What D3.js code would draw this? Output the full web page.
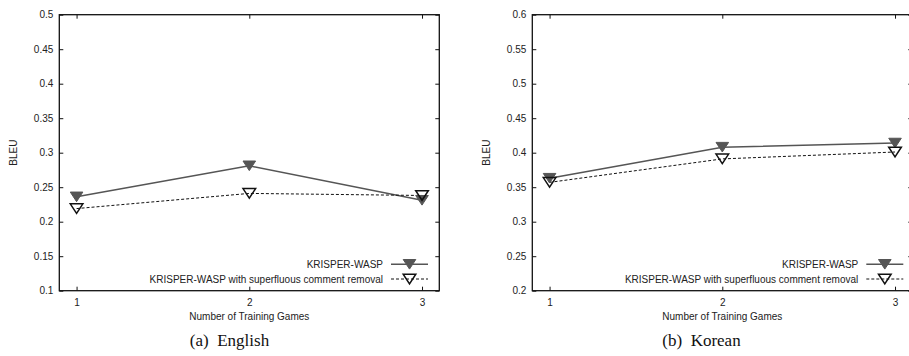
<!DOCTYPE html>
<html>
<head>
<meta charset="utf-8">
<script src="https://cdn.jsdelivr.net/npm/d3@7"></script>
<style>
  html, body { margin: 0; padding: 0; background: #fff; }
  svg { display: block; }
  .tick text { font-family: "Liberation Sans", Arial, sans-serif; font-size: 10px; fill: #222; }
  .lbl { font-family: "Liberation Sans", Arial, sans-serif; font-size: 10px; fill: #222; }
  .cap { font-family: "Liberation Serif", "Times New Roman", serif; font-size: 17px; fill: #111; }
</style>
</head>
<body>
<svg id="chart" width="909" height="356"></svg>
<script>
// Number of training games on the x axis
const games = [1, 2, 3];

// BLEU scores, English
const englishBase = [0.236, 0.281, 0.231];
const englishRemoval = [0.219, 0.241, 0.238];

// BLEU scores, Korean
const koreanBase = [0.363, 0.408, 0.414];
const koreanRemoval = [0.357, 0.391, 0.401];

// Y tick values for each panel
const englishTicks = [0.1, 0.15, 0.2, 0.25, 0.3, 0.35, 0.4, 0.45, 0.5];
const koreanTicks = [0.2, 0.25, 0.3, 0.35, 0.4, 0.45, 0.5, 0.55, 0.6];

const seriesNames = ["KRISPER-WASP", "KRISPER-WASP with superfluous comment removal"];

const svg = d3.select("#chart");
const grey = "#555";

function triangle(g, x, y, filled) {
  const w = 6.3, h = 9.6;
  const pts = [[x - w, y - h / 2], [x + w, y - h / 2], [x, y + h / 2]];
  g.append("path")
    .attr("d", "M" + pts.map(p => p.join(",")).join("L") + "Z")
    .attr("fill", filled ? grey : "none")
    .attr("stroke", filled ? grey : "#111")
    .attr("stroke-width", filled ? 1 : 1.5);
}

function drawPanel(opts) {
  const g = svg.append("g");
  const x = d3.scaleLinear().domain([0.9, 3.1]).range([opts.left, opts.left + opts.width]);
  const y = d3.scaleLinear().domain(opts.yDomain).range([290.7, 14.7]);

  // inward ticks on all four sides
  const yl = g.append("g").attr("transform", `translate(${opts.left},0)`)
    .call(d3.axisLeft(y).tickValues(opts.ticks).tickSize(-4).tickPadding(6).tickFormat(d3.format("")));
  const yr = g.append("g").attr("transform", `translate(${opts.left + opts.width},0)`)
    .call(d3.axisRight(y).tickValues(opts.ticks).tickSize(-4).tickFormat(""));
  const xb = g.append("g").attr("transform", `translate(0,290.7)`)
    .call(d3.axisBottom(x).tickValues(games).tickSize(-4).tickPadding(8).tickFormat(d3.format("d")));
  const xt = g.append("g").attr("transform", `translate(0,14.7)`)
    .call(d3.axisTop(x).tickValues(games).tickSize(-4).tickFormat(""));
  [yl, yr, xb, xt].forEach(a => {
    a.select(".domain").remove();
    a.selectAll(".tick line").attr("stroke", "#111").attr("stroke-width", 1);
  });

  g.append("rect")
    .attr("x", opts.left).attr("y", 14.7)
    .attr("width", opts.width).attr("height", 276)
    .attr("fill", "none").attr("stroke", "#111").attr("stroke-width", 1.3);

  const line = d3.line().x((d, i) => x(games[i])).y(d => y(d));

  g.append("path").datum(opts.base)
    .attr("d", line).attr("fill", "none")
    .attr("stroke", grey).attr("stroke-width", 1.5);
  g.append("path").datum(opts.removal)
    .attr("d", line).attr("fill", "none")
    .attr("stroke", "#111").attr("stroke-width", 1).attr("stroke-dasharray", "3,2");

  opts.base.forEach((v, i) => triangle(g, x(games[i]), y(v), true));
  opts.removal.forEach((v, i) => triangle(g, x(games[i]), y(v), false));

  // legend
  const lx = opts.legendX;
  const rows = [264.3, 279];
  seriesNames.forEach((name, i) => {
    g.append("text").attr("class", "lbl")
      .attr("x", lx).attr("y", rows[i] + 3.5)
      .attr("text-anchor", "end").text(name);
    const l = g.append("line")
      .attr("x1", lx + 8).attr("x2", lx + 45)
      .attr("y1", rows[i]).attr("y2", rows[i]);
    if (i === 0) l.attr("stroke", grey).attr("stroke-width", 1.5);
    else l.attr("stroke", "#111").attr("stroke-width", 1).attr("stroke-dasharray", "3,2");
    triangle(g, lx + 26.5, rows[i], i === 0);
  });

  g.append("text").attr("class", "lbl")
    .attr("transform", `translate(${opts.left - 46},152.7) rotate(-90)`)
    .attr("text-anchor", "middle").attr("dy", "0.35em").text("BLEU");

  g.append("text").attr("class", "lbl")
    .attr("x", x(2)).attr("y", 320)
    .attr("text-anchor", "middle").text("Number of Training Games");

  g.append("text").attr("class", "cap")
    .attr("x", opts.capX).attr("y", 345.5)
    .attr("text-anchor", "middle")
    .attr("xml:space", "preserve")
    .style("white-space", "pre")
    .text(opts.caption);
}

drawPanel({
  left: 59.3, width: 380, yDomain: [0.1, 0.5], ticks: englishTicks,
  base: englishBase, removal: englishRemoval,
  legendX: 383, capX: 229.5, caption: "(a)  English"
});

drawPanel({
  left: 532.3, width: 380, yDomain: [0.2, 0.6], ticks: koreanTicks,
  base: koreanBase, removal: koreanRemoval,
  legendX: 858.3, capX: 701.5, caption: "(b)  Korean"
});
</script>
</body>
</html>
